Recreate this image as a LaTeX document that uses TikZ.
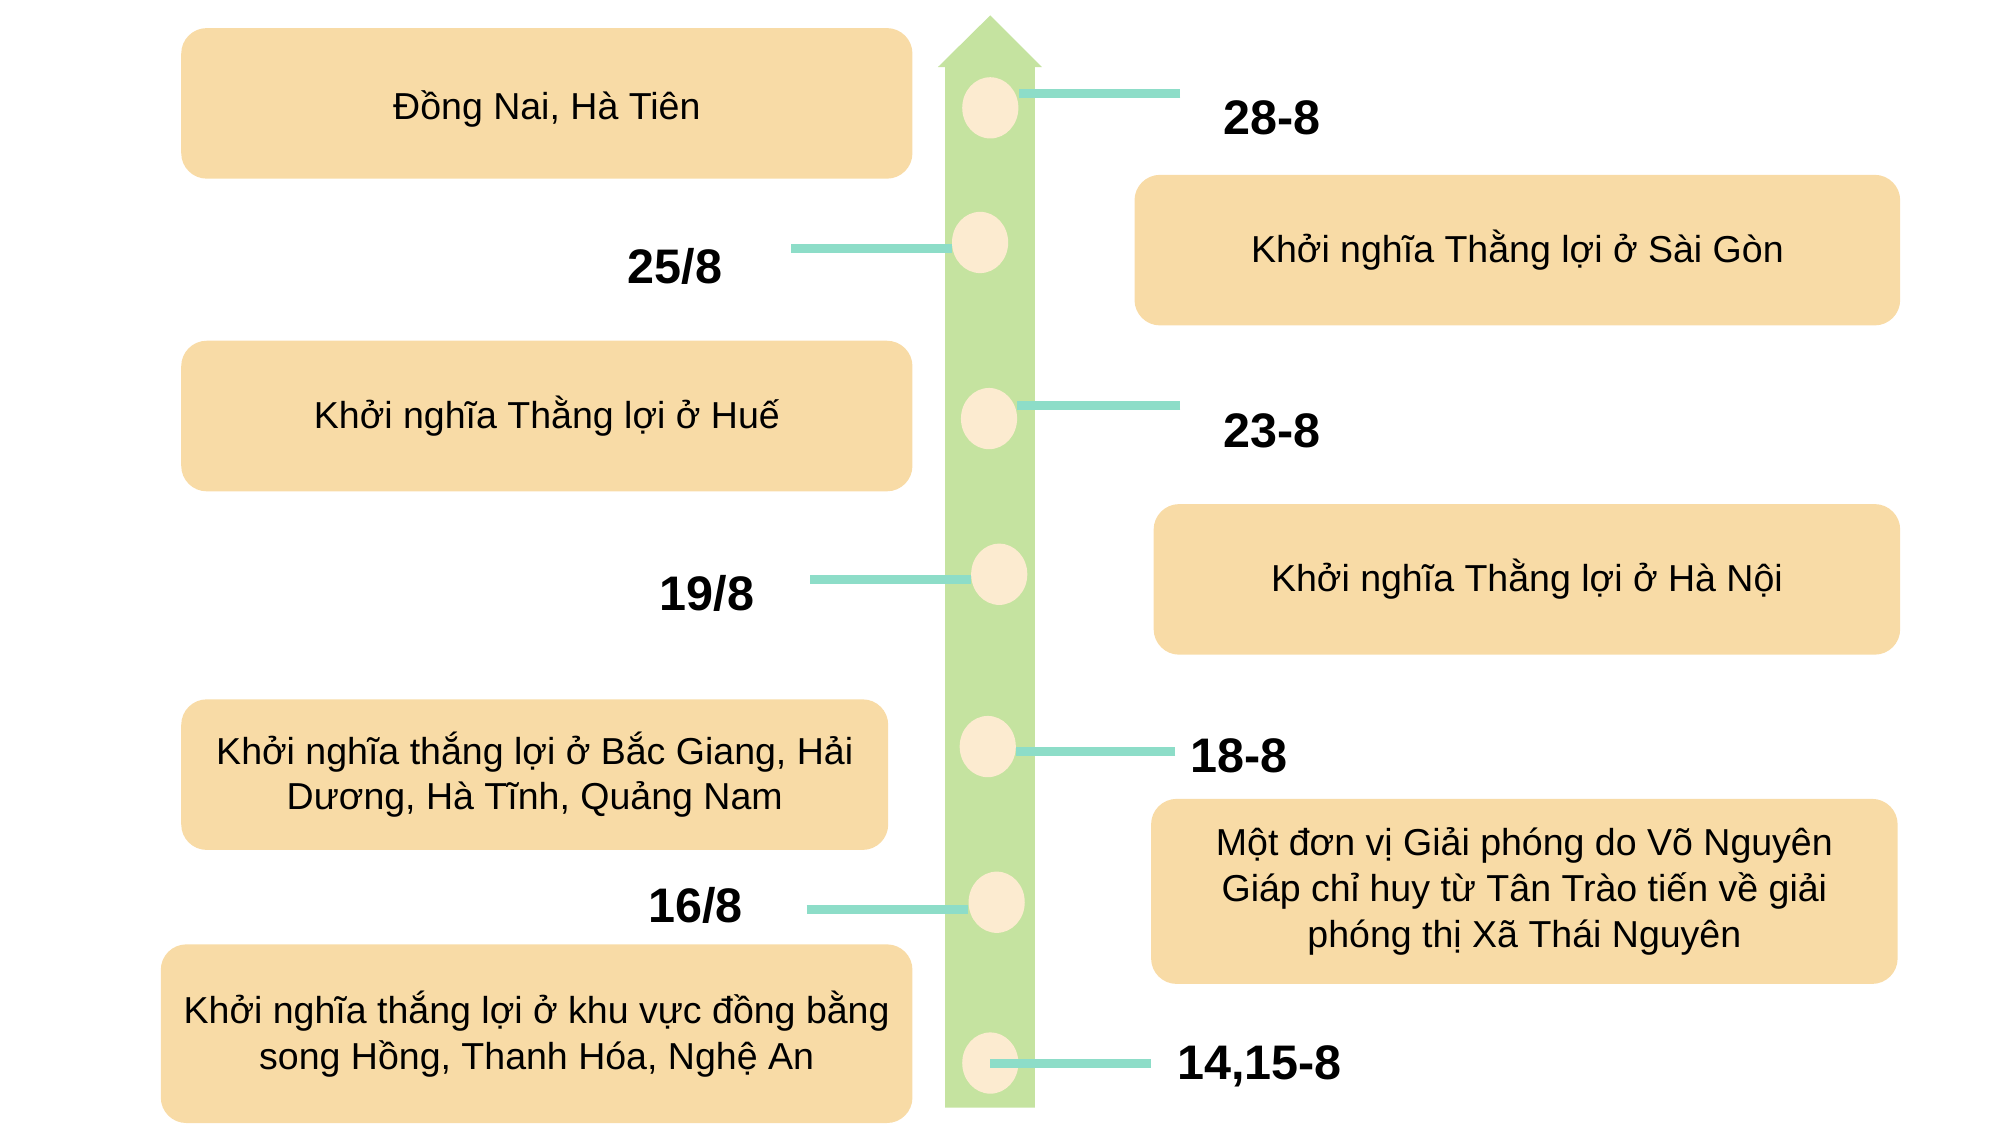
\documentclass[tikz,border=0pt]{standalone}
\usepackage{fontspec}
\setmainfont{Liberation Sans}
\usetikzlibrary{shapes.geometric}

\definecolor{boxfill}{RGB}{248,219,166}
\definecolor{stemgreen}{RGB}{197,227,160}
\definecolor{dotcream}{RGB}{252,235,208}
\definecolor{linkteal}{RGB}{141,221,200}

\tikzset{
  event/.style={fill=boxfill, rounded corners=20pt, inner sep=0pt, align=center,
    font=\fontsize{29.4}{36}\selectfont},
  date/.style={inner sep=0pt, text depth=0pt, font=\fontsize{38}{40}\selectfont\bfseries},
  dotnode/.style={ellipse, fill=dotcream, minimum width=44pt, minimum height=48pt, inner sep=0pt},
  linkline/.style={draw=linkteal, line width=7pt},
}

\begin{document}
\begin{tikzpicture}[x=1pt,y=-1pt]
\useasboundingbox (0,0) rectangle (1568,881.5);

%arrow:
\fill[stemgreen] (740.5,868) -- (740.5,52.5) -- (735,52.5) -- (776,12) -- (816.5,52.5)
  -- (811,52.5) -- (811,868) -- cycle;

\foreach \n/\x/\y in {1/776/84.5, 2/768/190, 3/775/328, 4/783/450, 5/774/585, 6/781/707, 7/776/833}
        \node[dotnode] (c\n) at (\x,\y) {};

%links, right side
\foreach \n/\x/\y in {1/925/73, 3/925/318, 5/921/589}
  {\coordinate (e\n) at (\x,\y);
   \draw[linkline] (e\n) -- (e\n -| c\n.east);}
%links, left side
\foreach \n/\x/\y in {2/620/195, 4/635/454, 6/632/713}
  {\coordinate (e\n) at (\x,\y);
   \draw[linkline] (e\n) -- (e\n -| c\n.west);}
\coordinate (e7) at (902,833);
\draw[linkline] (c7.center) -- (e7);

%dates:
\node[date] (d1) at (997,92)  {28-8};
\node[date] (d2) at (529,208) {25/8};
\node[date] (d3) at (997,337) {23-8};
\node[date] (d4) at (554,465) {19/8};
\node[date] (d5) at (971,592) {18-8};
\node[date] (d6) at (545,709) {16/8};
\node[date] (d7) at (987,833) {14,15-8};

%left boxes
\node[event, minimum width=573pt, minimum height=118pt, text height=26pt, text depth=0pt]
  (b1) at (428.5,81) {Đồng Nai, Hà Tiên};
\node[event, minimum width=573pt, minimum height=118pt] (b2) at (428.5,326)
  {Khởi nghĩa Thằng lợi ở Huế};
\node[event, minimum width=554pt, minimum height=118pt] (b3) at (419,607)
  {Khởi nghĩa thắng lợi ở Bắc Giang, Hải\\Dương, Hà Tĩnh, Quảng Nam};
\node[event, minimum width=589pt, minimum height=140pt] (b4) at (420.5,810)
  {Khởi nghĩa thắng lợi ở khu vực đồng bằng\\song Hồng, Thanh Hóa, Nghệ An};

%right boxes
\node[event, minimum width=600pt, minimum height=118pt] (b5) at (1189,196)
  {Khởi nghĩa Thằng lợi ở Sài Gòn};
\node[event, minimum width=585pt, minimum height=118pt] (b6) at (1196.5,454)
  {Khởi nghĩa Thằng lợi ở Hà Nội};
\node[event, minimum width=585pt, minimum height=145pt] (b7) at (1194.5,698.5)
  {Một đơn vị Giải phóng do Võ Nguyên\\Giáp chỉ huy từ Tân Trào tiến về giải\\phóng thị Xã Thái Nguyên};

\end{tikzpicture}
\end{document}
